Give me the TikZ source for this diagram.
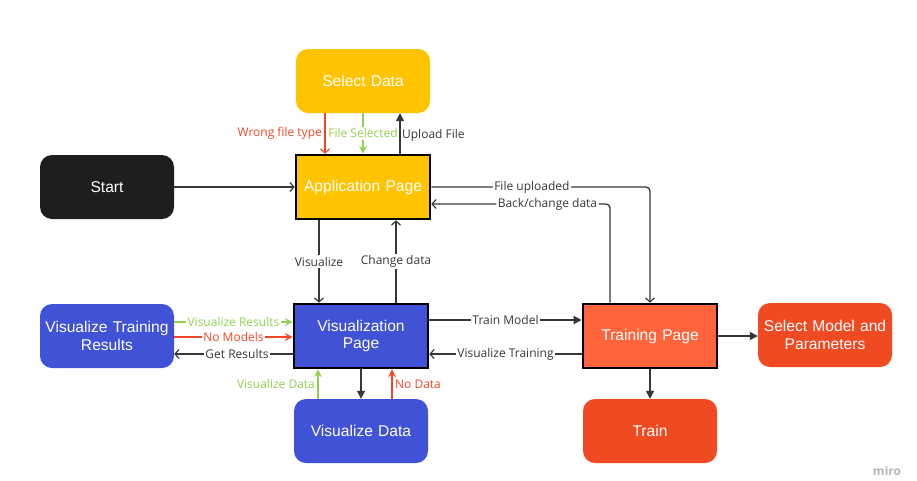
\documentclass[tikz,border=0pt]{standalone}
\usepackage{fontspec}
\setmainfont{Liberation Sans}
\newfontfamily\labelfont{Open Sans}
\usetikzlibrary{arrows.meta,calc}

\definecolor{appyellow}{RGB}{255,195,0}
\definecolor{visblue}{RGB}{64,82,214}
\definecolor{trainorange}{RGB}{255,100,60}
\definecolor{boxred}{RGB}{240,74,35}
\definecolor{startblack}{RGB}{30,30,30}
\definecolor{linegray}{RGB}{55,55,55}
\definecolor{okgreen}{RGB}{143,209,79}
\definecolor{errred}{RGB}{242,71,38}
\definecolor{mirogray}{RGB}{180,180,188}

\tikzset{
  box/.style={minimum width=134pt, minimum height=64pt, inner sep=2pt,
    text=white, font=\fontsize{15.6}{17.5}\selectfont, align=center, text width=130pt},
  roundbox/.style={box, rounded corners=12pt},
  pagebox/.style={box, draw=black, line width=2.6pt},
  conn/.style={draw=linegray, line width=1.3pt},
  openhead/.style={-{Straight Barb[length=4pt,width=9pt,line width=1.2pt]}},
  solidhead/.style={-{Triangle[length=8pt,width=8pt]}},
  softhead/.style={-{Stealth[length=8pt,width=8pt,inset=3pt]}},
  goodconn/.style={draw=okgreen, line width=1.3pt},
  badconn/.style={draw=errred, line width=1.3pt},
  lbl/.style={font=\labelfont\fontsize{12}{13}\selectfont, text=linegray, inner sep=1.5pt},
  onlbl/.style={lbl, fill=white},
}

\begin{document}
\begin{tikzpicture}[x=1pt, y=-1pt]
\useasboundingbox (0,0) rectangle (917,480);

% boxes
\node[roundbox, fill=appyellow] (sel) at (363,81) {Select Data};
\node[pagebox, fill=appyellow] (app) at (363,187) {Application Page};
\node[roundbox, fill=startblack] (start) at (107,187) {Start};
\node[pagebox, fill=visblue] (vis) at (361,336) {Visualization\\Page};
\node[roundbox, fill=visblue] (vtr) at (107,336) {Visualize Training\\Results};
\node[roundbox, fill=visblue] (vdata) at (361,431) {Visualize Data};
\node[pagebox, fill=trainorange] (tp) at (650,336) {Training Page};
\node[roundbox, fill=boxred] (selm) at (825,335) {Select Model and\\Parameters};
\node[roundbox, fill=boxred] (train) at (650,431) {Train};

\node[text=mirogray, font=\labelfont\bfseries\fontsize{12}{13}\selectfont] (miro) at (887,471) {miro};

% vertical guide coordinates
\coordinate (xwrong) at (325,0);
\coordinate (xsel) at (363,0);
\coordinate (xup) at (400,0);
\coordinate (xvisz) at (319,0);
\coordinate (xchg) at (396,0);
\coordinate (xvd) at (318,0);
\coordinate (xnod) at (392,0);
\coordinate (xback) at (610,0);

% start -> application
\draw[conn, openhead] (start) -- (app);

% select data <-> application
\draw[badconn, openhead] (sel.south -| xwrong) -- (app.north -| xwrong)
  node[midway, left, xshift=-1pt, lbl, text=errred] {Wrong file type};
\draw[goodconn, softhead] (sel.south -| xsel) -- (app.north -| xsel)
  node[midway, onlbl, text=okgreen] {File Selected};
\draw[conn, solidhead] (app.north -| xup) -- (sel.south -| xup)
  node[midway, right, yshift=-2pt, lbl] {Upload File};

% application <-> training
\draw[conn, openhead, rounded corners=4pt] (app.east) -| (tp.north)
  node[pos=0.23, onlbl] {File uploaded};
\draw[conn, openhead, rounded corners=4pt] (tp.north -| xback) |- ([yshift=-17pt]app.east)
  node[pos=0.675, onlbl] {Back/change data};

% application <-> visualization
\draw[conn, openhead] (app.south -| xvisz) -- (vis.north -| xvisz)
  node[midway, onlbl] {Visualize};
\draw[conn, openhead] (vis.north -| xchg) -- (app.south -| xchg)
  node[midway, onlbl] {Change data};

% visualization <-> training
\draw[conn, solidhead] ([yshift=16pt]vis.east) -- ([yshift=16pt]tp.west)
  node[midway, onlbl] {Train Model};
\draw[conn, openhead] ([yshift=-18pt]tp.west) -- ([yshift=-18pt]vis.east)
  node[midway, onlbl] {Visualize Training};

% training -> outputs
\draw[conn, solidhead] (tp.east) -- (tp.east -| selm.west);
\draw[conn, solidhead] (tp.south) -- (train.north);

% training results <-> visualization
\draw[goodconn, softhead] ([yshift=14pt]vtr.east) -- ([yshift=14pt]vis.west)
  node[midway, onlbl, text=okgreen] {Visualize Results};
\draw[badconn, softhead] ([yshift=-1pt]vtr.east) -- ([yshift=-1pt]vis.west)
  node[midway, onlbl, text=errred] {No Models};
\draw[conn, openhead] ([yshift=-18pt]vis.west) -- ([yshift=-18pt]vtr.east)
  node[pos=0.47, onlbl] {Get Results};

% visualization <-> visualize data
\draw[conn, solidhead] (vis.south) -- (vdata.north);
\draw[goodconn, softhead] (vdata.north -| xvd) -- (vis.south -| xvd)
  node[midway, left, xshift=-1pt, lbl, text=okgreen] {Visualize Data};
\draw[badconn, softhead] (vdata.north -| xnod) -- (vis.south -| xnod)
  node[midway, right, xshift=1pt, lbl, text=errred] {No Data};

\end{tikzpicture}
\end{document}
